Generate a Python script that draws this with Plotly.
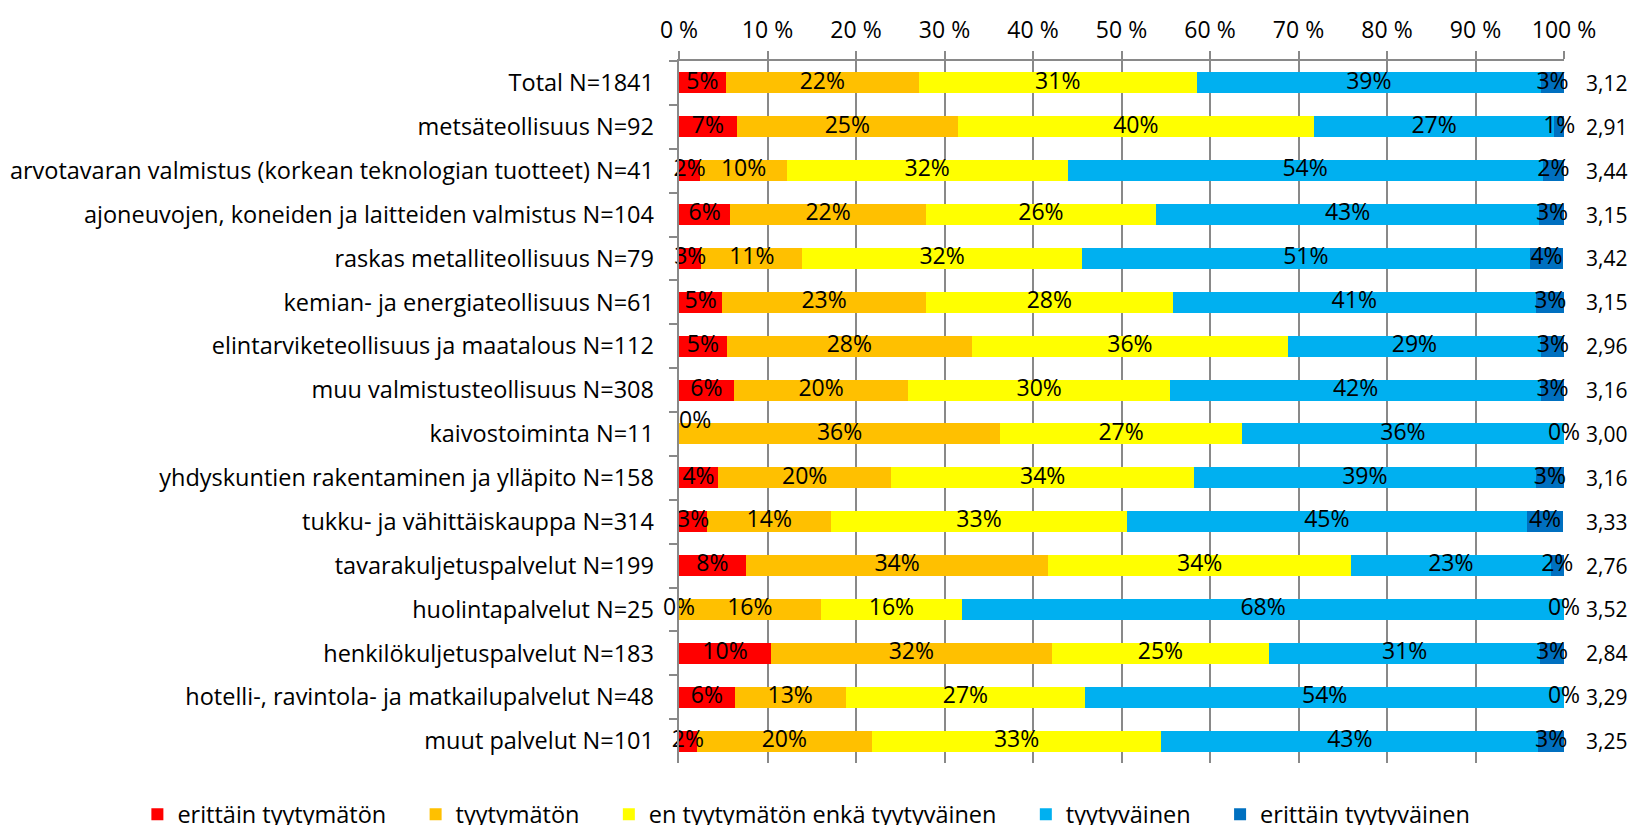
import numpy as np
import plotly.graph_objects as go

categories = [
    "Total N=1841",
    "metsäteollisuus N=92",
    "arvotavaran valmistus (korkean teknologian tuotteet) N=41",
    "ajoneuvojen, koneiden ja laitteiden valmistus N=104",
    "raskas metalliteollisuus N=79",
    "kemian- ja energiateollisuus N=61",
    "elintarviketeollisuus ja maatalous N=112",
    "muu valmistusteollisuus N=308",
    "kaivostoiminta N=11",
    "yhdyskuntien rakentaminen ja ylläpito N=158",
    "tukku- ja vähittäiskauppa N=314",
    "tavarakuljetuspalvelut N=199",
    "huolintapalvelut N=25",
    "henkilökuljetuspalvelut N=183",
    "hotelli-, ravintola- ja matkailupalvelut N=48",
    "muut palvelut N=101",
]

# shares in percent, one list per answer option
erittain_tyytymaton = [5.3, 6.52, 2.4, 5.8, 2.53, 4.9, 5.4, 6.2, 0, 4.4, 3.2, 7.54, 0, 10.4, 6.3, 2.0]
tyytymaton = [21.8, 25.0, 9.8, 22.1, 11.4, 23.0, 27.7, 19.7, 36.3, 19.6, 14.0, 34.2, 16.0, 31.7, 12.52, 19.8]
neutraali = [31.4, 40.2, 31.7, 26.0, 31.6, 27.9, 35.7, 29.6, 27.3, 34.2, 33.4, 34.2, 16.0, 24.6, 27.1, 32.7]
tyytyvainen = [38.9, 27.2, 53.7, 43.3, 50.6, 41.0, 28.6, 41.9, 36.4, 38.6, 45.2, 22.55, 68.0, 30.6, 54.08, 42.6]
erittain_tyytyvainen = [2.6, 1.1, 2.4, 2.9, 3.8, 3.3, 2.7, 2.6, 0, 3.2, 4.1, 1.51, 0, 2.7, 0, 2.9]

means = [3.12, 2.91, 3.44, 3.15, 3.42, 3.15, 2.96, 3.16, 3.00, 3.16, 3.33, 2.76, 3.52, 2.84, 3.29, 3.25]

series_names = [
    "erittäin tyytymätön",
    "tyytymätön",
    "en tyytymätön enkä tyytyväinen",
    "tyytyväinen",
    "erittäin tyytyväinen",
]
series_values = [erittain_tyytymaton, tyytymaton, neutraali, tyytyvainen, erittain_tyytyvainen]
colors = ["#FF0000", "#FFC000", "#FFFF00", "#00B0F0", "#0070C0"]

FONT = "Open Sans"
GRID = "#898989"
PAD = "\u00a0" * 4  # extra room between legend entries

fig = go.Figure()

for name, vals, col in zip(series_names, series_values, colors):
    fig.add_trace(go.Bar(
        y=categories, x=vals, name=name + PAD, orientation="h",
        marker=dict(color=col, line=dict(width=0)),
        hoverinfo="skip",
    ))

# data labels at segment centres (also for zero-width segments)
cum = np.zeros(len(categories))
for i, vals in enumerate(series_values):
    v = np.array(vals, dtype=float)
    centers = (cum + v / 2).tolist()
    cum = cum + v
    pos = []
    for cat, val in zip(categories, vals):
        if i == 0 and val == 0 and cat.startswith("kaivostoiminta"):
            pos.append("top right")
        else:
            pos.append("middle center")
    fig.add_trace(go.Scatter(
        x=centers, y=categories, mode="text",
        text=[f"{round(val + 1e-9):.0f}%" for val in vals],
        textposition=pos,
        textfont=dict(family=FONT, size=23, color="black"),
        showlegend=False, hoverinfo="skip", cliponaxis=False,
    ))

for cat, m in zip(categories, means):
    fig.add_annotation(
        x=100, y=cat, xref="x", yref="y", xanchor="left", xshift=20,
        text=f"{m:.2f}".replace(".", ","), showarrow=False,
        font=dict(family=FONT, size=21, color="black"),
    )

fig.update_layout(
    barmode="stack",
    bargap=0.52,
    width=1628, height=817,
    margin=dict(l=671, r=72, t=53, b=62, autoexpand=False),
    plot_bgcolor="white", paper_bgcolor="white",
    font=dict(family=FONT, size=23, color="black"),
    legend=dict(
        orientation="h", xref="paper", yref="paper",
        x=-0.612, xanchor="left", y=-0.042, yanchor="top",
        traceorder="normal",
        font=dict(family=FONT, size=23.5, color="black"),
        itemclick=False,
    ),
    xaxis=dict(
        side="top", range=[0, 100], dtick=10, ticksuffix=" %",
        showgrid=True, gridcolor=GRID, gridwidth=2,
        showline=True, linecolor=GRID, linewidth=2,
        ticks="outside", ticklen=8, tickcolor=GRID, tickwidth=2,
        zeroline=False, automargin=False, ticklabelstandoff=4,
        tickfont=dict(family=FONT, size=23, color="black"),
    ),
    yaxis=dict(
        autorange=False, range=[15.5, -0.5], tickson="boundaries",
        showline=True, linecolor=GRID, linewidth=2,
        ticks="outside", ticklen=8, tickcolor=GRID, tickwidth=2,
        showgrid=False, automargin=False,
        ticksuffix="\u00a0\u00a0\u00a0",
        tickfont=dict(family=FONT, size=23.5, color="black"),
    ),
)

fig.write_html("out.html")
